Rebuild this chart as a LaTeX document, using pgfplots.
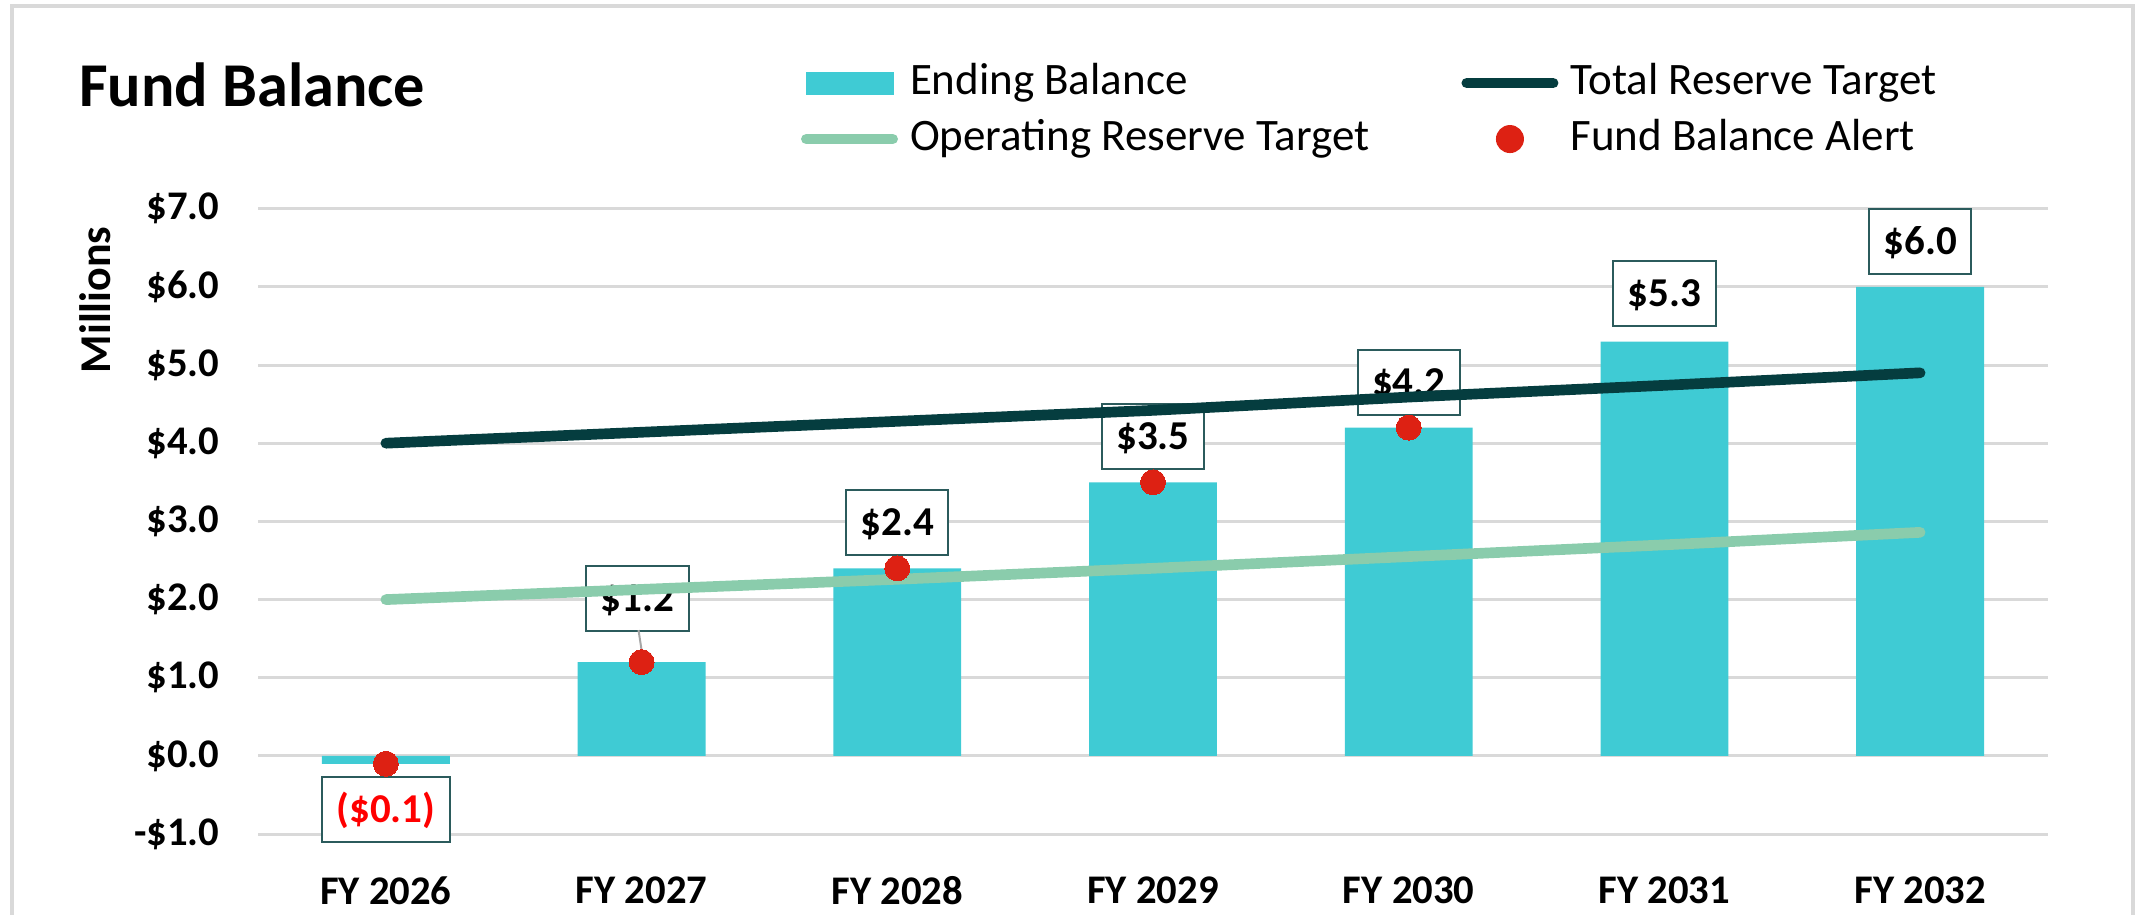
\documentclass[border=0pt]{standalone}
\usepackage{fontspec}
\setmainfont{Carlito}
\usepackage{pgfplots}
\pgfplotsset{compat=1.18}
\definecolor{barc}{HTML}{3FCBD4}
\definecolor{totc}{HTML}{053D3F}
\definecolor{opc}{HTML}{8ACCAC}
\definecolor{dotc}{HTML}{DD2113}
\definecolor{boxc}{HTML}{2B5B5C}
\definecolor{gridc}{HTML}{D9D9D9}
\definecolor{framec}{HTML}{D9D9D9}
\tikzset{lbl/.style={draw=boxc, line width=0.6pt, fill=white, font=\fontsize{12.3}{14}\selectfont\bfseries,
    inner xsep=4.35pt, inner ysep=0pt, minimum height=19.5pt, text height=7.8pt, text depth=0pt}}
\begin{document}
\begin{tikzpicture}
\draw[framec, line width=1.2pt] (3.6pt,-5pt) -- (3.6pt,272.55pt) -- (639.9pt,272.55pt) -- (639.9pt,-5pt);
\node[anchor=base west, inner sep=0pt, font=\fontsize{18.7}{22}\selectfont\bfseries] at (23.55pt,242.4pt) {Fund Balance};
\begin{axis}[
  at={(77.4pt,24.24pt)}, anchor=south west,
  scale only axis, width=537pt, height=187.68pt,
  xmin=-0.5, xmax=6.5, ymin=-1, ymax=7,
  xtick={0,1,2,3,4,5,6},
  xticklabels={FY 2026,FY 2027,FY 2028,FY 2029,FY 2030,FY 2031,FY 2032},
  ytick={-1,0,1,2,3,4,5,6,7},
  yticklabels={-\$1.0,\$0.0,\$1.0,\$2.0,\$3.0,\$4.0,\$5.0,\$6.0,\$7.0},
  ymajorgrids, grid style={gridc, line width=0.9pt},
  axis line style={draw=none}, major tick length=0pt,
  tick label style={font=\fontsize{12.2}{14}\selectfont\bfseries},
  xticklabel style={anchor=north, inner sep=0pt, yshift=-12.6pt},
  yticklabel style={anchor=east, inner sep=0pt, xshift=-11.4pt},
  ylabel={Millions},
  ylabel style={at={(axis description cs:-0.091,0.854)}, anchor=center, font=\fontsize{13.2}{15}\selectfont\bfseries},
  clip=false,
  legend columns=2, legend cell align=left,
  legend style={at={(axis description cs:0.3,1.2364)}, anchor=north west, draw=none, fill=none, inner sep=0pt,
    font=\fontsize{13.5}{16}\selectfont,
    nodes={inner sep=0pt, text height=10pt, text depth=3pt},
    row sep=3.8pt,
    /tikz/every odd column/.append style={column sep=2pt},
    /tikz/every even column/.append style={column sep=26pt}},
]
\addplot[ybar, bar width=0.5, fill=barc, draw=none,
  legend image code/.code={\fill[barc] (1.5pt,-3.45pt) rectangle (27.9pt,3.45pt); \path (0pt,0pt) (29.1pt,0pt);}]
  coordinates {(0,-0.1) (1,1.2) (2,2.4) (3,3.5) (4,4.2) (5,5.3) (6,6.0)};
\addlegendentry{Ending Balance}

\node[lbl, text=red] at (axis cs:0,-0.68) {(\$0.1)};
\node[lbl] at (axis cs:0.984,2.02) {\$1.2};
\node[lbl] at (axis cs:2,2.98) {\$2.4};
\node[lbl] at (axis cs:3,4.08) {\$3.5};
\node[lbl] at (axis cs:4,4.78) {\$4.2};
\node[lbl] at (axis cs:5,5.91) {\$5.3};
\node[lbl] at (axis cs:6,6.58) {\$6.0};
\draw[gray!70, line width=0.6pt] (axis cs:0.988,1.61) -- (axis cs:1.005,1.25);

\addplot[totc, line width=3.2pt, line cap=round, mark=none,
  legend image code/.code={\draw[totc, line width=3.2pt, line cap=round] (1.6pt,0pt) -- (27.5pt,0pt); \path (0pt,0pt) (29.1pt,0pt);}]
  coordinates {(0,4.00) (1,4.14) (2,4.28) (3,4.42) (4,4.59) (5,4.74) (6,4.90)};
\addlegendentry{Total Reserve Target}

\addplot[opc, line width=3.2pt, line cap=round, mark=none,
  legend image code/.code={\draw[opc, line width=3.2pt, line cap=round] (1.6pt,0pt) -- (27.5pt,0pt); \path (0pt,0pt) (29.1pt,0pt);}]
  coordinates {(0,2.00) (1,2.13) (2,2.26) (3,2.40) (4,2.55) (5,2.70) (6,2.86)};
\addlegendentry{Operating Reserve Target}

\addplot[dotc, only marks, mark=*, mark size=3.75pt, mark options={fill=dotc, draw=dotc, line width=0pt},
  legend image code/.code={\fill[dotc] (14.55pt,0pt) circle (4pt); \path (0pt,0pt) (29.1pt,0pt);}]
  coordinates {(0,-0.1) (1,1.2) (2,2.4) (3,3.5) (4,4.2)};
\addlegendentry{Fund Balance Alert}
\end{axis}
\pgfresetboundingbox
\useasboundingbox (0pt,0pt) rectangle (642.6pt,274.5pt);
\end{tikzpicture}
\end{document}
